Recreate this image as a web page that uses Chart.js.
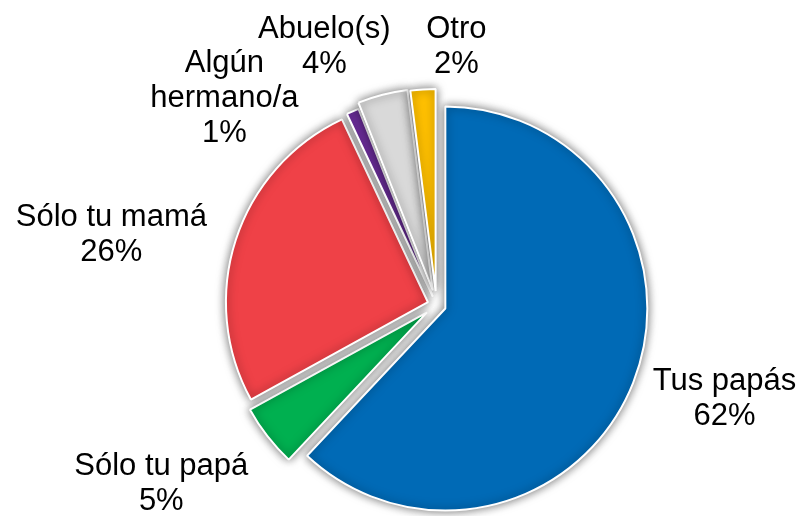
<!DOCTYPE html>
<html>
<head>
<meta charset="utf-8">
<script src="https://cdn.jsdelivr.net/npm/chart.js@4/dist/chart.umd.min.js"></script>
<style>
  html, body { margin: 0; padding: 0; background: #ffffff; }
  #wrap { width: 805px; height: 516px; position: relative; }
</style>
</head>
<body>
<div id="wrap"><canvas id="c"></canvas></div>
<script>
// ---- data ----
const categories = ['Tus papás', 'Sólo tu papá', 'Sólo tu mamá', ['Algún', 'hermano/a'], 'Abuelo(s)', 'Otro'];
const percentages = [62, 5, 26, 1, 4, 2];
const sliceColors = ['#006AB6', '#00B050', '#EF4147', '#7030A0', '#D9D9D9', '#FFC000'];

// ---- styling / layout (not data) ----
const sliceExplode = [9.5, 12, 9, 9, 15, 14];   // pixels each slice is pulled out
const LABEL_GAP = 40;
const labelNudges = [[63, 5], [-84, 31], [-95, 5], [-116, 16], [-52, -24], [35, -17]];
const FONT = '31px "Liberation Sans", Arial, sans-serif';
const LINE_H = 35;

// Pull slices out by a plain translation (no radius inflation)
const baseArcDraw = Chart.ArcElement.prototype.draw;
Chart.ArcElement.prototype.draw = function (ctx) {
  const opts = this.options;
  const shift = opts.offset || 0;
  if (!shift) { return baseArcDraw.call(this, ctx); }
  const mid = (this.startAngle + this.endAngle) / 2;
  ctx.save();
  ctx.translate(Math.cos(mid) * shift, Math.sin(mid) * shift);
  this.options = Object.create(opts, { offset: { value: 0 } });
  try { baseArcDraw.call(this, ctx); } finally { this.options = opts; }
  ctx.restore();
};

const shadowPlugin = {
  id: 'sliceShadow',
  beforeDatasetsDraw(chart) {
    const c = chart.ctx;
    c.save();
    c.shadowColor = 'rgba(0,0,0,0.55)';
    c.shadowBlur = 10;
    c.shadowOffsetX = 0;
    c.shadowOffsetY = 0;
  },
  afterDatasetsDraw(chart) {
    chart.ctx.restore();
  }
};

const labelPlugin = {
  id: 'outsideLabels',
  afterDraw(chart) {
    const ctx = chart.ctx;
    const meta = chart.getDatasetMeta(0);
    ctx.save();
    ctx.font = FONT;
    ctx.fillStyle = '#000000';
    ctx.textAlign = 'center';
    ctx.textBaseline = 'middle';
    meta.data.forEach((arc, i) => {
      const p = arc.getProps(['x', 'y', 'startAngle', 'endAngle', 'outerRadius'], true);
      const mid = (p.startAngle + p.endAngle) / 2;
      const d = p.outerRadius + LABEL_GAP;
      const ax = p.x + Math.cos(mid) * d + labelNudges[i][0];
      const ay = p.y + Math.sin(mid) * d + labelNudges[i][1];
      const cat = chart.data.labels[i];
      const lines = (Array.isArray(cat) ? cat.slice() : [cat]);
      lines.push(chart.data.datasets[0].data[i] + '%');
      const top = ay - (lines.length - 1) * LINE_H / 2;
      lines.forEach((t, k) => ctx.fillText(t, ax, top + k * LINE_H));
    });
    ctx.restore();
  }
};

new Chart(document.getElementById('c'), {
  type: 'pie',
  data: {
    labels: categories,
    datasets: [{
      data: percentages,
      backgroundColor: sliceColors,
      borderColor: '#ffffff',
      borderWidth: 2,
      offset: sliceExplode
    }]
  },
  options: {
    responsive: true,
    maintainAspectRatio: false,
    animation: false,
    radius: 202,
    layout: { padding: { left: 68, right: 0, top: 94, bottom: 0 } },
    plugins: {
      legend: { display: false },
      tooltip: { enabled: false }
    }
  },
  plugins: [shadowPlugin, labelPlugin]
});
</script>
</body>
</html>
